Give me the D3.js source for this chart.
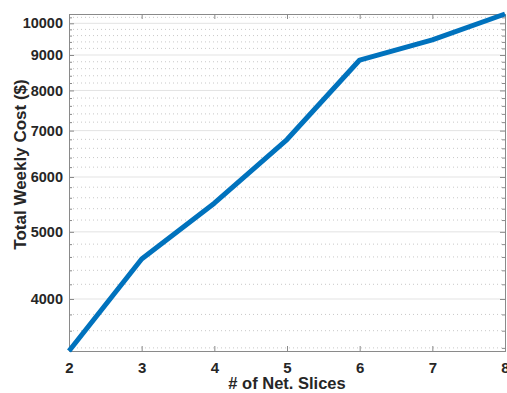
<!DOCTYPE html>
<html>
<head>
<meta charset="utf-8">
<script src="https://cdn.jsdelivr.net/npm/d3@7"></script>
<style>
  body { margin: 0; background: #fff; }
  svg text { font-family: "Liberation Sans", Arial, sans-serif; font-weight: bold; fill: #262626; }
</style>
</head>
<body>
<div id="chart"><svg></svg></div>
<script>
// number of network slices
var slices = [2, 3, 4, 5, 6, 7, 8];
// total weekly cost in $
var weeklyCost = [3365, 4568, 5500, 6795, 8850, 9465, 10314];
var yTickValues = [4000, 5000, 6000, 7000, 8000, 9000, 10000];
var yMinorValues = [3400, 3600, 3800, 4200, 4400, 4600, 4800, 5200, 5400, 5600, 5800,
    6200, 6400, 6600, 6800, 7200, 7400, 7600, 7800, 8200, 8400, 8600, 8800,
    9200, 9400, 9600, 9800, 10200];

// set the dimensions and margins of the graph
var margin = {top: 14, right: 2, bottom: 42, left: 69},
    width = 507 - margin.left - margin.right,
    height = 393 - margin.top - margin.bottom;

var x = d3.scaleLinear()
    .domain([2, 8])
    .range([0, width]);
var y = d3.scaleLog()
    .domain([d3.min(weeklyCost), d3.max(weeklyCost)])
    .range([height, 0]);

var svg = d3.select("#chart").select("svg")
    .attr("width", width + margin.left + margin.right)
    .attr("height", height + margin.top + margin.bottom)
    .append("g")
    .attr("transform", "translate(" + margin.left + "," + margin.top + ")");

// minor grid (dotted)
svg.append("g").selectAll("line")
    .data(yMinorValues)
    .enter().append("line")
    .attr("x1", 0).attr("x2", width)
    .attr("y1", function (d) { return y(d); })
    .attr("y2", function (d) { return y(d); })
    .attr("stroke", "#c8c8c8")
    .attr("stroke-width", 1)
    .attr("stroke-dasharray", "1,3");

// major grid
svg.append("g").selectAll("line")
    .data(yTickValues)
    .enter().append("line")
    .attr("x1", 0).attr("x2", width)
    .attr("y1", function (d) { return y(d); })
    .attr("y2", function (d) { return y(d); })
    .attr("stroke", "#e3e3e3")
    .attr("stroke-width", 1);

var axisColor = "#8a8a8a";

// add the x Axis (ticks inward)
var xAxis = svg.append("g")
    .attr("transform", "translate(0," + height + ")")
    .call(d3.axisBottom(x).tickValues(slices).tickFormat(d3.format("d")).tickSize(-5).tickPadding(11));
xAxis.selectAll("text").style("font-size", "15px");

// top axis (ticks only)
svg.append("g")
    .call(d3.axisTop(x).tickValues(slices).tickSize(-5).tickFormat(""));

// add the y Axis
var yAxis = svg.append("g")
    .call(d3.axisLeft(y).tickValues(yTickValues).tickFormat(d3.format("d")).tickSize(-5).tickPadding(6));
yAxis.selectAll("text").style("font-size", "14.5px");
svg.append("g")
    .call(d3.axisLeft(y).tickValues(yMinorValues).tickFormat("").tickSize(-3));

// right axis
svg.append("g")
    .attr("transform", "translate(" + width + ",0)")
    .call(d3.axisRight(y).tickValues(yTickValues).tickFormat("").tickSize(-5));
svg.append("g")
    .attr("transform", "translate(" + width + ",0)")
    .call(d3.axisRight(y).tickValues(yMinorValues).tickFormat("").tickSize(-3));

svg.selectAll(".domain").attr("stroke", axisColor);
svg.selectAll(".tick line").attr("stroke", axisColor);

// the line
var line = d3.line()
    .x(function (d, i) { return x(slices[i]); })
    .y(function (d) { return y(d); });

svg.append("path")
    .datum(weeklyCost)
    .attr("fill", "none")
    .attr("stroke", "#0072BD")
    .attr("stroke-width", 5)
    .attr("stroke-linejoin", "round")
    .attr("d", line);

// axis labels
svg.append("text")
    .attr("x", width / 2)
    .attr("y", height + 38)
    .attr("text-anchor", "middle")
    .style("font-size", "16.5px")
    .text("# of Net. Slices");

svg.append("text")
    .attr("transform", "translate(-43," + (height / 2 - 18) + ") rotate(-90)")
    .attr("text-anchor", "middle")
    .style("font-size", "17px")
    .text("Total Weekly Cost ($)");
</script>
</body>
</html>
